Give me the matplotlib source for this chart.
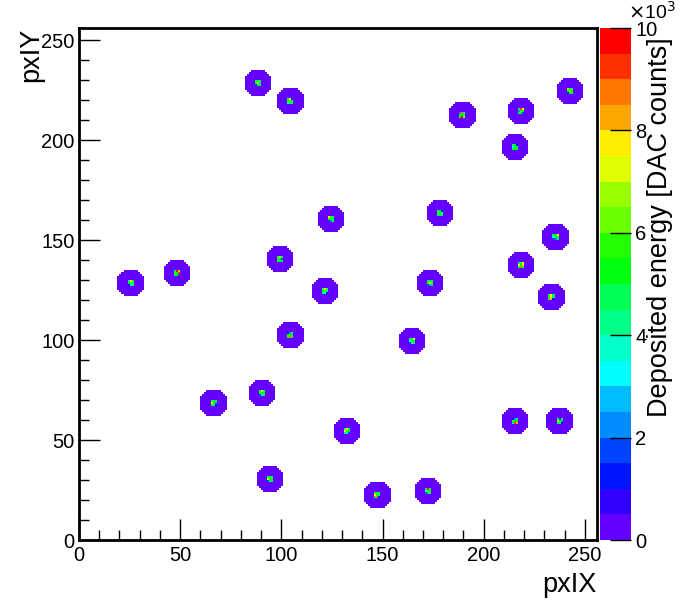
import numpy as np
import matplotlib
matplotlib.use("Agg")
import matplotlib.pyplot as plt
from matplotlib.colors import ListedColormap, BoundaryNorm
import colorsys

plt.rcParams['font.family'] = ['Liberation Sans', 'DejaVu Sans']

# ---- data ----
blob_x = [88.8, 104.5, 242.7, 189.8, 218.3, 215.3, 124.3, 178.7, 235.1, 99.5,
          25.6, 48.0, 218.0, 121.4, 173.4, 233.5, 104.5, 164.4, 66.5, 90.9,
          132.8, 215.8, 237.8, 94.9, 147.0, 172.1]
blob_y = [228.8, 219.6, 224.3, 212.9, 214.1, 196.7, 160.3, 163.7, 151.2, 140.3,
          128.3, 133.6, 137.3, 124.1, 128.3, 121.9, 102.7, 99.0, 68.1, 73.0,
          54.0, 59.3, 59.1, 30.0, 22.5, 24.7]
blob_radius = [6.8] * 26
halo_value = 250
# 3x3 core values per blob (rows: top, middle, bottom; cols: left, centre, right)
blob_core = [
    [5000, 5500, 4600, 5800, 6500, 2500, 1500, 5200, 4800],
    [4700, 7500, 1200, 5200, 5500, 4600, 3200, 5300, 4800],
    [6800, 5500, 4700, 5200, 6000, 5000, 1300, 5300, 4600],
    [2000, 8500, 4600, 5300, 5300, 4800, 5000, 9500, 6800],
    [4800, 9000, 7000, 2000, 5500, 5200, 4600, 5300, 1500],
    [4800, 5200, 1400, 3000, 5400, 5200, 4600, 5200, 4700],
    [7500, 5500, 4800, 5200, 5500, 4600, 1500, 2000, 4700],
    [4600, 5300, 1400, 5500, 5600, 3000, 4800, 5200, 4600],
    [4600, 5200, 7500, 3000, 5500, 5400, 1500, 2000, 4800],
    [4800, 6500, 4600, 5200, 5600, 1500, 4700, 5000, 4600],
    [4600, 7000, 4800, 5200, 5500, 4700, 1400, 3000, 4600],
    [4800, 9500, 6800, 5500, 5300, 9000, 4600, 5200, 1500],
    [4600, 5500, 7200, 7500, 5000, 7000, 4800, 8500, 4600],
    [4600, 7000, 4800, 5200, 5500, 4700, 4800, 3000, 1400],
    [4800, 5200, 4600, 5500, 7000, 4700, 1500, 2000, 4800],
    [4700, 7500, 4600, 5200, 7000, 4800, 4600, 8000, 1400],
    [1300, 2000, 4800, 5300, 5500, 4600, 4700, 8500, 4800],
    [4600, 4800, 7000, 3000, 5500, 5300, 1500, 3500, 4700],
    [5200, 5500, 4800, 7000, 5400, 2000, 4600, 4700, 1400],
    [4800, 7000, 4600, 5400, 5000, 5200, 1500, 3000, 4700],
    [4600, 7000, 4800, 7500, 5500, 5200, 4700, 3000, 1500],
    [1400, 2000, 4800, 5500, 5200, 5300, 4600, 9000, 8200],
    [4800, 1500, 4600, 6500, 5500, 2000, 4700, 4800, 1400],
    [4600, 5300, 4800, 7000, 5500, 5200, 1500, 4700, 4600],
    [4800, 5500, 4600, 7500, 5200, 4700, 4600, 8500, 1400],
    [5200, 9000, 4800, 3000, 5500, 5200, 1500, 5300, 4600],
]
x_ticks = [0, 50, 100, 150, 200, 250]
y_ticks = [0, 50, 100, 150, 200, 250]
z_ticks = [0, 2000, 4000, 6000, 8000, 10000]
z_tick_labels = ['0', '2', '4', '6', '8', '10']
n_bins = 256
z_max = 10000
n_levels = 20

# ---- histogram ----
H = np.zeros((n_bins, n_bins))
ii = np.arange(n_bins) + 0.5
XX, YY = np.meshgrid(ii, ii)
for bx, by, r, core in zip(blob_x, blob_y, blob_radius, blob_core):
    cx, cy = int(bx), int(by)
    mask = (XX - (cx + 0.5)) ** 2 + (YY - (cy + 0.5)) ** 2 <= r ** 2
    H[mask] = np.maximum(H[mask], halo_value)
    c = np.array(core).reshape(3, 3)
    for rr in range(3):
        for cc in range(3):
            H[cy + 1 - rr, cx - 1 + cc] = c[rr, cc]
Hm = np.ma.masked_where(H <= 0, H)

# ROOT pretty palette (violet -> red), 20 contour levels
pal = []
for i in range(49):
    hue = 280 - (i + 1) * (280 / 50)
    pal.append(colorsys.hls_to_rgb(hue / 360.0, 0.5, 1.0))
pal.append((1.0, 0.0, 0.0))
cols = []
for k in range(n_levels):
    idx = int((k + 0.99) * 50 / n_levels)
    cols.append(pal[min(idx, 49)])
cmap = ListedColormap(cols)
cmap.set_bad('white')
levels = np.linspace(0, z_max, n_levels + 1)
norm = BoundaryNorm(levels, cmap.N)

W, Hpx = 685, 605
fig = plt.figure(figsize=(W / 100, Hpx / 100), dpi=100)
ax = fig.add_axes([79 / W, 1 - 540 / Hpx, (597 - 79) / W, (540 - 28) / Hpx])
edges = np.arange(n_bins + 1)
mesh = ax.pcolormesh(edges, edges, Hm, cmap=cmap, norm=norm, antialiased=False, linewidth=0)
ax.set_xlim(0, n_bins)
ax.set_ylim(0, n_bins)
ax.set_xticks(x_ticks)
ax.set_yticks(y_ticks)
ax.set_xticks(np.arange(0, 257, 10), minor=True)
ax.set_yticks(np.arange(0, 257, 10), minor=True)
ax.tick_params(which='both', direction='in', top=False, right=False, width=1.0, color='black')
ax.tick_params(which='major', length=15, labelsize=14.5)
ax.tick_params(which='minor', length=7)
ax.tick_params(axis='x', pad=4)
ax.tick_params(axis='y', pad=3)
for s in ax.spines.values():
    s.set_linewidth(2.0)

cax = fig.add_axes([600 / W, 1 - 540 / Hpx, 31 / W, (540 - 28) / Hpx])
cb = fig.colorbar(mesh, cax=cax, ticks=z_ticks)
cb.outline.set_visible(False)
cax.yaxis.set_ticks_position('right')
cax.set_yticklabels(z_tick_labels)
cax.tick_params(direction='in', length=15, width=1.0, labelsize=14.5, pad=3)
cax.minorticks_off()
fig.text(628 / W, 1 - 19 / Hpx, r'$\times$10$^{3}$', fontsize=14, ha='left', va='baseline')

fig.text(660 / W, 1 - 37 / Hpx, 'Deposited energy [DAC counts]', rotation=90,
         fontsize=19.5, ha='center', va='top')
fig.text(597 / W, 1 - 592 / Hpx, 'pxIX', fontsize=19.5, ha='right', va='baseline')
fig.text(31 / W, 1 - 28 / Hpx, 'pxIY', fontsize=19.5, rotation=90, ha='center', va='top')

fig.savefig('out.png', dpi=100)
